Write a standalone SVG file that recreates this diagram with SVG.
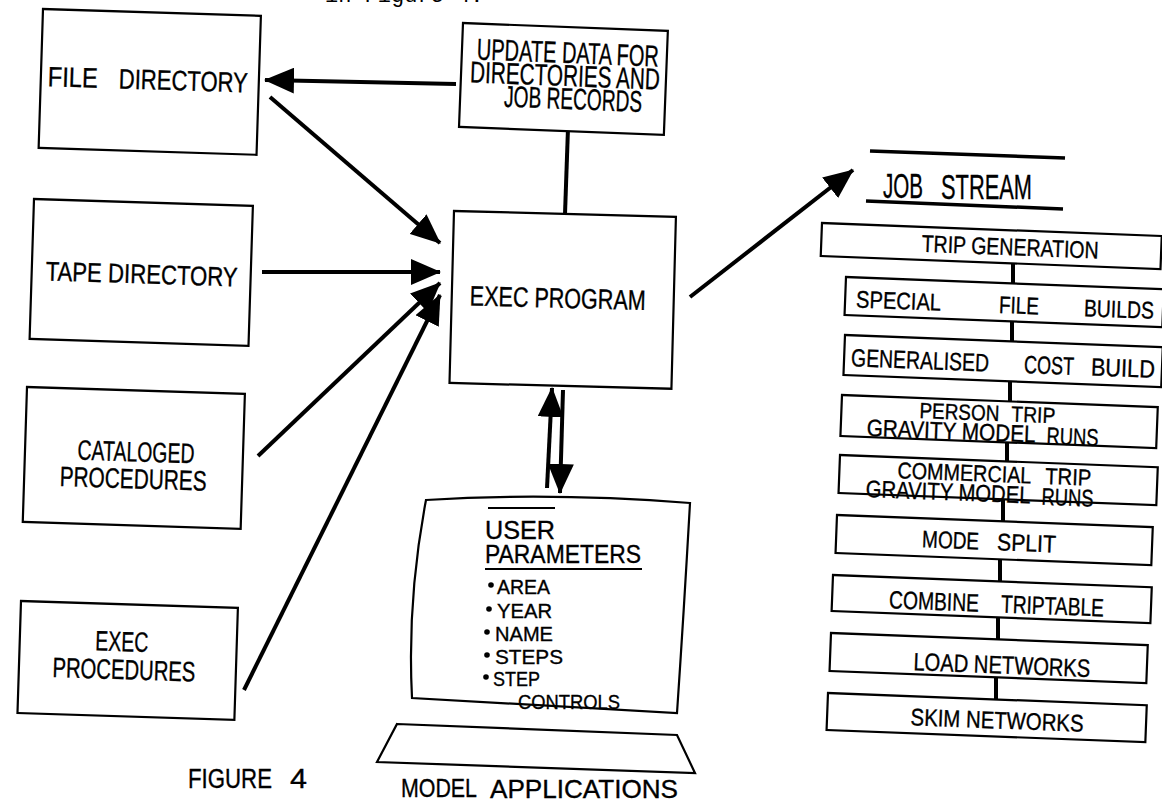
<svg xmlns="http://www.w3.org/2000/svg" width="1162" height="804" viewBox="0 0 1162 804">
<style>
.box{fill:#fff;stroke:#000;stroke-width:2.2}
.t{font-family:"Liberation Sans",Arial,sans-serif;fill:#000;text-anchor:middle;stroke:#000;stroke-width:0.35}
.ts{font-family:"Liberation Sans",Arial,sans-serif;fill:#000;stroke:#000;stroke-width:0.35}
.c{stroke:#000;stroke-width:4;fill:none}
.a{stroke:#000;stroke-width:4;fill:none;marker-end:url(#ah)}
.ln{stroke:#000;stroke-width:2.2;fill:none}
</style>
<defs>
<marker id="ah" markerUnits="userSpaceOnUse" viewBox="0 0 30 26" markerWidth="30" markerHeight="26" refX="29" refY="13" orient="auto">
<path d="M0,0 L30,13 L0,26 Z" fill="#000"/>
</marker>
</defs>
<text x="325" y="2" style="font-family:'Liberation Mono',monospace;font-size:22px;fill:#000">in Figure 4.</text>

<g id="connectors">
<line class="a" x1="456" y1="84" x2="265" y2="80"/>
<line class="a" x1="270" y1="97" x2="440" y2="243"/>
<line class="a" x1="262" y1="272" x2="440" y2="272"/>
<line class="a" x1="258" y1="456" x2="440" y2="283"/>
<line class="a" x1="244" y1="690" x2="440" y2="295"/>
<line class="c" x1="568" y1="128" x2="565" y2="214"/>
<line class="a" x1="690" y1="297" x2="853" y2="170"/>
<line class="a" x1="547" y1="488" x2="552" y2="388"/>
<line class="a" x1="563" y1="390" x2="560" y2="493"/>
<line class="c" x1="1013" y1="245" x2="1013" y2="300"/>
<line class="c" x1="1012" y1="300" x2="1012" y2="360"/>
<line class="c" x1="1010" y1="360" x2="1010" y2="420"/>
<line class="c" x1="1007" y1="420" x2="1007" y2="480"/>
<line class="c" x1="1003" y1="480" x2="1003" y2="540"/>
<line class="c" x1="1000" y1="540" x2="1000" y2="600"/>
<line class="c" x1="998" y1="600" x2="998" y2="660"/>
<line class="c" x1="996" y1="660" x2="996" y2="715"/>
</g>

<g id="file-directory" transform="translate(43,9) rotate(1.8)">
<rect class="box" x="0" y="0" width="218" height="139"/>
<text class="ts" x="7" y="77" style="font-size:28px" textLength="50" lengthAdjust="spacingAndGlyphs">FILE</text>
<text class="ts" x="78" y="77" style="font-size:28px" textLength="129" lengthAdjust="spacingAndGlyphs">DIRECTORY</text>
</g>
<g id="tape-directory" transform="translate(34,199) rotate(1.8)">
<rect class="box" x="0" y="0" width="219" height="140"/>
<text class="t" x="110" y="81" style="font-size:27px" textLength="192" lengthAdjust="spacingAndGlyphs">TAPE DIRECTORY</text>
</g>
<g id="cataloged-procedures" transform="translate(27,387) rotate(1.8)">
<rect class="box" x="0" y="0" width="218" height="135"/>
<text class="t" x="111" y="71" style="font-size:28px" textLength="117" lengthAdjust="spacingAndGlyphs">CATALOGED</text>
<text class="t" x="109" y="98" style="font-size:28px" textLength="147" lengthAdjust="spacingAndGlyphs">PROCEDURES</text>
</g>
<g id="exec-procedures" transform="translate(21,601) rotate(1.8)">
<rect class="box" x="0" y="0" width="217" height="112"/>
<text class="t" x="102" y="47" style="font-size:28px" textLength="53" lengthAdjust="spacingAndGlyphs">EXEC</text>
<text class="t" x="105" y="75" style="font-size:28px" textLength="143" lengthAdjust="spacingAndGlyphs">PROCEDURES</text>
</g>
<g id="update-data" transform="translate(463,23) rotate(2.2)">
<rect class="box" x="0" y="0" width="205" height="104"/>
<text class="t" x="106" y="36" style="font-size:30px" textLength="182" lengthAdjust="spacingAndGlyphs">UPDATE DATA FOR</text>
<text class="t" x="104" y="59" style="font-size:30px" textLength="190" lengthAdjust="spacingAndGlyphs">DIRECTORIES AND</text>
<text class="t" x="113" y="82" style="font-size:30px" textLength="138" lengthAdjust="spacingAndGlyphs">JOB RECORDS</text>
</g>
<g id="exec-program" transform="translate(454,211) rotate(1.5)">
<rect class="box" x="0" y="0" width="222" height="172"/>
<text class="t" x="106" y="94" style="font-size:28px" textLength="176" lengthAdjust="spacingAndGlyphs">EXEC PROGRAM</text>
</g>

<g id="user-parameters">
<path class="box" d="M426,500 Q550,492 690,503 Q684,610 677,713 L412,698 Q407,600 426,500 Z"/>
<line class="ln" x1="488" y1="508" x2="555" y2="508"/>
<text class="ts" x="485" y="539" style="font-size:26px" textLength="70" lengthAdjust="spacingAndGlyphs">USER</text>
<text class="ts" x="485" y="563" style="font-size:26px" textLength="156" lengthAdjust="spacingAndGlyphs">PARAMETERS</text>
<line class="ln" x1="485" y1="569" x2="642" y2="569"/>
<circle cx="491" cy="585" r="2.8"/>
<text class="ts" x="497" y="594" style="font-size:21px" textLength="53" lengthAdjust="spacingAndGlyphs">AREA</text>
<circle cx="489" cy="609" r="2.8"/>
<text class="ts" x="497" y="618" style="font-size:21px" textLength="55" lengthAdjust="spacingAndGlyphs">YEAR</text>
<circle cx="487" cy="632" r="2.8"/>
<text class="ts" x="495" y="641" style="font-size:21px" textLength="58" lengthAdjust="spacingAndGlyphs">NAME</text>
<circle cx="487" cy="655" r="2.8"/>
<text class="ts" x="495" y="664" style="font-size:21px" textLength="68" lengthAdjust="spacingAndGlyphs">STEPS</text>
<circle cx="486" cy="677" r="2.8"/>
<text class="ts" x="493" y="686" style="font-size:21px" textLength="47" lengthAdjust="spacingAndGlyphs">STEP</text>
<text class="ts" x="518" y="709" style="font-size:21px" textLength="102" lengthAdjust="spacingAndGlyphs">CONTROLS</text>
</g>
<g id="model-applications">
<path class="box" d="M397,724 L677,735 L695,773 L377,762 Z"/>
<text class="ts" x="401" y="797" style="font-size:26px" textLength="76" lengthAdjust="spacingAndGlyphs">MODEL</text>
<text class="ts" x="490" y="798" style="font-size:26px" textLength="188" lengthAdjust="spacingAndGlyphs">APPLICATIONS</text>
</g>
<g id="figure-label">
<text class="ts" x="188" y="788" style="font-size:27px" textLength="84" lengthAdjust="spacingAndGlyphs">FIGURE</text>
<text class="ts" x="290" y="788" style="font-size:27px" textLength="17" lengthAdjust="spacingAndGlyphs">4</text>
</g>

<g id="job-stream">
<line x1="870" y1="151" x2="1065" y2="158" stroke="#000" stroke-width="3.5"/>
<text class="ts" x="883" y="198" style="font-size:35px" textLength="40" lengthAdjust="spacingAndGlyphs">JOB</text>
<text class="ts" x="941" y="199" style="font-size:35px" textLength="91" lengthAdjust="spacingAndGlyphs">STREAM</text>
<line x1="866" y1="201" x2="1063" y2="209" stroke="#000" stroke-width="3.5"/>
</g>
<g id="trip-generation" transform="translate(822,223) rotate(2.2)">
<rect class="box" x="0" y="0" width="340" height="33"/>
<text class="t" x="189" y="25" style="font-size:24px" textLength="177" lengthAdjust="spacingAndGlyphs">TRIP GENERATION</text>
</g>
<g id="special-file-builds" transform="translate(846,277) rotate(2.2)">
<rect class="box" x="0" y="0" width="318" height="38"/>
<text class="ts" x="11" y="30" style="font-size:24px" textLength="85" lengthAdjust="spacingAndGlyphs">SPECIAL</text>
<text class="ts" x="154" y="30" style="font-size:24px" textLength="40" lengthAdjust="spacingAndGlyphs">FILE</text>
<text class="ts" x="239" y="30" style="font-size:24px" textLength="70" lengthAdjust="spacingAndGlyphs">BUILDS</text>
</g>
<g id="generalised-cost-build" transform="translate(845,335) rotate(2.2)">
<rect class="box" x="0" y="0" width="318" height="40"/>
<text class="ts" x="7" y="31" style="font-size:25px" textLength="138" lengthAdjust="spacingAndGlyphs">GENERALISED</text>
<text class="ts" x="180" y="31" style="font-size:25px" textLength="50" lengthAdjust="spacingAndGlyphs">COST</text>
<text class="ts" x="247" y="31" style="font-size:25px" textLength="64" lengthAdjust="spacingAndGlyphs">BUILD</text>
</g>
<g id="person-trip" transform="translate(842,395) rotate(2.2)">
<rect class="box" x="0" y="0" width="316" height="41"/>
<text class="ts" x="78" y="20" style="font-size:22px" textLength="80" lengthAdjust="spacingAndGlyphs">PERSON</text>
<text class="ts" x="170" y="20" style="font-size:22px" textLength="44" lengthAdjust="spacingAndGlyphs">TRIP</text>
<text class="ts" x="26" y="40" style="font-size:24px" textLength="169" lengthAdjust="spacingAndGlyphs">GRAVITY MODEL</text>
<text class="ts" x="206" y="41" style="font-size:24px" textLength="52" lengthAdjust="spacingAndGlyphs">RUNS</text>
</g>
<g id="commercial-trip" transform="translate(840,455) rotate(2.2)">
<rect class="box" x="0" y="0" width="318" height="38"/>
<text class="ts" x="58" y="21" style="font-size:23px" textLength="134" lengthAdjust="spacingAndGlyphs">COMMERCIAL</text>
<text class="ts" x="206" y="21" style="font-size:23px" textLength="46" lengthAdjust="spacingAndGlyphs">TRIP</text>
<text class="ts" x="27" y="41" style="font-size:24px" textLength="165" lengthAdjust="spacingAndGlyphs">GRAVITY MODEL</text>
<text class="ts" x="203" y="42" style="font-size:24px" textLength="52" lengthAdjust="spacingAndGlyphs">RUNS</text>
</g>
<g id="mode-split" transform="translate(837,515) rotate(2.2)">
<rect class="box" x="0" y="0" width="316" height="38"/>
<text class="ts" x="86" y="29" style="font-size:24px" textLength="57" lengthAdjust="spacingAndGlyphs">MODE</text>
<text class="ts" x="161" y="29" style="font-size:24px" textLength="59" lengthAdjust="spacingAndGlyphs">SPLIT</text>
</g>
<g id="combine-triptable" transform="translate(833,575) rotate(2.2)">
<rect class="box" x="0" y="0" width="319" height="36"/>
<text class="ts" x="57" y="31" style="font-size:25px" textLength="90" lengthAdjust="spacingAndGlyphs">COMBINE</text>
<text class="ts" x="169" y="31" style="font-size:25px" textLength="103" lengthAdjust="spacingAndGlyphs">TRIPTABLE</text>
</g>
<g id="load-networks" transform="translate(831,633) rotate(2.2)">
<rect class="box" x="0" y="0" width="317" height="38"/>
<text class="t" x="172" y="34" style="font-size:25px" textLength="177" lengthAdjust="spacingAndGlyphs">LOAD NETWORKS</text>
</g>
<g id="skim-networks" transform="translate(828,693) rotate(2.2)">
<rect class="box" x="0" y="0" width="319" height="37"/>
<text class="t" x="170" y="29" style="font-size:24px" textLength="173" lengthAdjust="spacingAndGlyphs">SKIM NETWORKS</text>
</g>
</svg>
